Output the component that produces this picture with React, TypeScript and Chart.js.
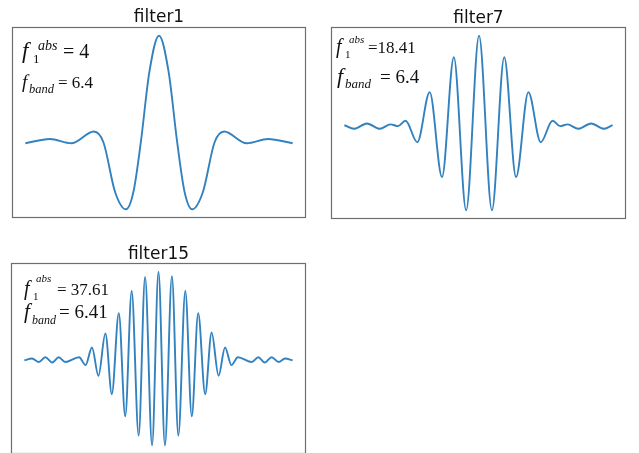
import { useEffect, useRef } from "react";
import { Chart, registerables } from "chart.js";

Chart.register(...registerables);

// ---------- data (sample index of the 251-tap filter, amplitude normalised to the main peak) ----------
const panelTitles = ["filter1", "filter7", "filter15"];
const f1AbsLabels = ["4", "18.41", "37.61"];
const fBandLabels = ["6.4", "6.4", "6.41"];

const filter1Samples = [0, 23, 43, 64, 73, 84, 94, 101, 108, 116, 125, 134, 142, 149, 156, 166, 177, 186, 207, 227, 250];
const filter1Values = [-0.01, 0.03, -0.01, 0.1, 0.0, -0.47, -0.63, -0.47, 0.0, 0.66, 1.0, 0.66, 0.0, -0.47, -0.63, -0.47, 0.0, 0.1, -0.01, 0.03, -0.01];

const filter7Samples = [0, 9, 21, 33, 43, 50, 57, 68, 79.5, 91, 102, 113.5, 125.5, 137.5, 149, 160, 171.5, 183, 194, 201, 208, 218, 230, 242, 250];
const filter7Values = [0.0, -0.04, 0.02, -0.04, 0.01, -0.01, 0.05, -0.19, 0.37, -0.58, 0.76, -0.95, 1.0, -0.95, 0.76, -0.58, 0.37, -0.19, 0.05, -0.01, 0.01, -0.04, 0.02, -0.04, 0.0];

const filter15Samples = [0, 7, 13.5, 19.5, 26, 32, 38, 51, 57, 63, 69, 75.5, 81.5, 88, 94, 100, 106.5, 112.5, 119, 125, 131, 137.5, 143.5, 150, 156, 162, 168.5, 174.5, 181, 187, 193, 199, 212, 218, 224, 230.5, 237, 243, 250];
const filter15Values = [-0.005, 0.015, -0.025, 0.03, -0.03, 0.03, -0.025, 0.03, -0.06, 0.14, -0.18, 0.3, -0.39, 0.53, -0.64, 0.78, -0.86, 0.94, -0.97, 1.0, -0.97, 0.95, -0.86, 0.78, -0.64, 0.53, -0.39, 0.31, -0.18, 0.14, -0.06, 0.03, -0.025, 0.03, -0.03, 0.03, -0.025, 0.015, -0.005];

// ---------- layout / style ----------
const LINE_COLOR = "#3282c0";
const SPINE_COLOR = "#6e6e6e";
const MATH_FONT = '"Liberation Serif", "Times New Roman", serif';

type MathLine = {
  fx: number; base: number; size: number;
  sub: string; subX: number; subBase: number; subSize: number;
  sup?: string; supX?: number; supBase?: number; supSize?: number;
  rhs: string; rhsX: number; rhsSize: number;
};

type PanelCfg = {
  left: number; top: number; width: number; height: number;
  pad: { left: number; top: number; right: number; bottom: number };
  title: string; titleBase: number;
  xs: number[]; ys: number[]; yMin: number; yMax: number;
  lines: MathLine[];
};

const panels: PanelCfg[] = [
  {
    left: 0, top: 0, width: 318, height: 228,
    pad: { left: 12, top: 27, right: 12, bottom: 10 },
    title: panelTitles[0], titleBase: 22,
    xs: filter1Samples, ys: filter1Values, yMin: -0.7115, yMax: 1.0815,
    lines: [
      { fx: 22, base: 58, size: 23, sub: "1", subX: 33, subBase: 63, subSize: 13, sup: "abs", supX: 38, supBase: 50, supSize: 14, rhs: "= " + f1AbsLabels[0], rhsX: 63, rhsSize: 20 },
      { fx: 22, base: 88, size: 19, sub: "band", subX: 29, subBase: 93, subSize: 12.5, rhs: "= " + fBandLabels[0], rhsX: 58, rhsSize: 17 },
    ],
  },
  {
    left: 320, top: 0, width: 319, height: 228,
    pad: { left: 11, top: 27, right: 13, bottom: 9 },
    title: panelTitles[1], titleBase: 23,
    xs: filter7Samples, ys: filter7Values, yMin: -1.0475, yMax: 1.0975,
    lines: [
      { fx: 16, base: 53, size: 20, sub: "1", subX: 25, subBase: 58, subSize: 11, sup: "abs", supX: 29, supBase: 43, supSize: 11, rhs: "=" + f1AbsLabels[1], rhsX: 48, rhsSize: 17 },
      { fx: 17, base: 83, size: 22, sub: "band", subX: 25, subBase: 88, subSize: 13, rhs: "= " + fBandLabels[1], rhsX: 60, rhsSize: 19 },
    ],
  },
  {
    left: 0, top: 230, width: 318, height: 230,
    pad: { left: 11, top: 33, right: 12, bottom: 6 },
    title: panelTitles[2], titleBase: 29,
    xs: filter15Samples, ys: filter15Values, yMin: -1.0685, yMax: 1.0985,
    lines: [
      { fx: 24, base: 65, size: 20, sub: "1", subX: 33, subBase: 70, subSize: 11, sup: "abs", supX: 36, supBase: 52, supSize: 11, rhs: "= " + f1AbsLabels[2], rhsX: 57, rhsSize: 17 },
      { fx: 24, base: 88, size: 21, sub: "band", subX: 32, subBase: 94, subSize: 12, rhs: "= " + fBandLabels[2], rhsX: 59, rhsSize: 19 },
    ],
  },
];

function makeDecor(cfg: PanelCfg) {
  return {
    id: "panelDecor",
    afterDraw(chart: any) {
      const { ctx, chartArea } = chart;
      ctx.save();
      // axes box
      ctx.strokeStyle = SPINE_COLOR;
      ctx.lineWidth = 1.2;
      ctx.strokeRect(
        Math.round(chartArea.left) + 0.5,
        Math.round(chartArea.top) + 0.5,
        Math.round(chartArea.right - chartArea.left) - 1,
        Math.round(chartArea.bottom - chartArea.top) - 1
      );
      // title
      ctx.fillStyle = "#111";
      ctx.font = '17px "DejaVu Sans", sans-serif';
      ctx.textAlign = "center";
      ctx.textBaseline = "alphabetic";
      ctx.fillText(cfg.title, (chartArea.left + chartArea.right) / 2, cfg.titleBase);
      // math annotations
      ctx.textAlign = "left";
      ctx.fillStyle = "#111";
      for (const ln of cfg.lines) {
        ctx.font = `italic ${ln.size}px ${MATH_FONT}`;
        ctx.fillText("f", ln.fx, ln.base);
        if (ln.sub === "1") ctx.font = `${ln.subSize}px ${MATH_FONT}`;
        else ctx.font = `italic ${ln.subSize}px ${MATH_FONT}`;
        ctx.fillText(ln.sub, ln.subX, ln.subBase);
        if (ln.sup) {
          ctx.font = `italic ${ln.supSize}px ${MATH_FONT}`;
          ctx.fillText(ln.sup, ln.supX as number, ln.supBase as number);
        }
        ctx.font = `${ln.rhsSize}px ${MATH_FONT}`;
        ctx.fillText(ln.rhs, ln.rhsX, ln.base);
      }
      ctx.restore();
    },
  };
}

function FilterPanel({ cfg }: { cfg: PanelCfg }) {
  const ref = useRef<HTMLCanvasElement | null>(null);
  useEffect(() => {
    const canvas = ref.current;
    if (!canvas) return;
    const chart = new Chart(canvas, {
      type: "line",
      data: {
        datasets: [
          {
            data: cfg.xs.map((x, i) => ({ x, y: cfg.ys[i] })),
            borderColor: LINE_COLOR,
            borderWidth: 1.9,
            pointRadius: 0,
            fill: false,
            tension: 0.4,
            cubicInterpolationMode: "monotone",
          },
        ],
      },
      options: {
        animation: false,
        responsive: false,
        devicePixelRatio: 1,
        layout: { padding: cfg.pad },
        scales: {
          x: { type: "linear", display: false, min: -12.5, max: 262.5 },
          y: { type: "linear", display: false, min: cfg.yMin, max: cfg.yMax },
        },
        plugins: {
          legend: { display: false },
          title: { display: false },
          tooltip: { enabled: false },
        },
        events: [],
      },
      plugins: [makeDecor(cfg)],
    });
    return () => chart.destroy();
  }, [cfg]);
  return (
    <canvas
      ref={ref}
      width={cfg.width}
      height={cfg.height}
      style={{ position: "absolute", left: cfg.left, top: cfg.top, width: cfg.width, height: cfg.height }}
    />
  );
}

export default function App() {
  return (
    <div
      style={{
        position: "fixed",
        left: 0,
        top: 0,
        width: 639,
        height: 453,
        overflow: "hidden",
        background: "#fff",
      }}
    >
      {panels.map((p) => (
        <FilterPanel key={p.title} cfg={p} />
      ))}
    </div>
  );
}
